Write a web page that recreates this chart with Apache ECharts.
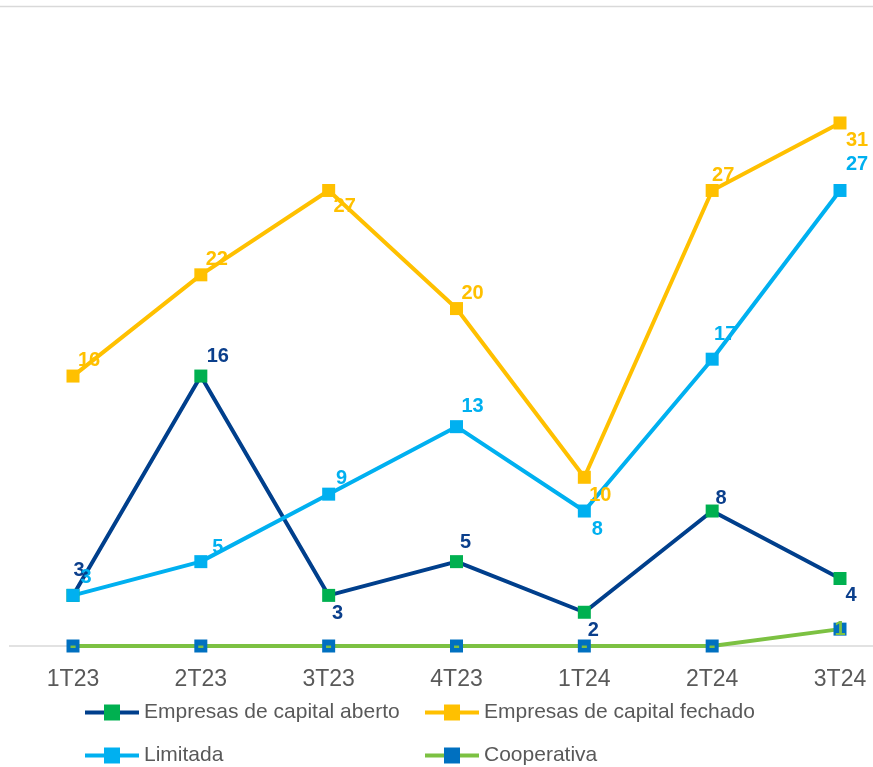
<!DOCTYPE html>
<html>
<head>
<meta charset="utf-8">
<script src="https://cdn.jsdelivr.net/npm/echarts@6/dist/echarts.min.js"></script>
<style>html,body{margin:0;padding:0;background:#fff;}#c{width:873px;height:767px;}</style>
</head>
<body>
<div id="c"></div>
<script>
var categories = ['1T23','2T23','3T23','4T23','1T24','2T24','3T24'];
var seriesNames = ['Empresas de capital aberto','Empresas de capital fechado','Limitada','Cooperativa'];
var capitalAberto = [3,16,3,5,2,8,4];
var capitalFechado = [16,22,27,20,10,27,31];
var limitada = [3,5,9,13,8,17,27];
var cooperativa = [0,0,0,0,0,0,1];

// label offsets (style only)
var offAberto = [[6,-25],[17,-20],[9,18],[9,-19],[9,18],[9,-13],[11,17]];
var offFechado = [[16,-16],[16,-15],[16,16],[16,-15],[16,18],[11,-15],[17,17]];
var offLimitada = [[13,-18],[17,-14],[13,-16],[16,-20],[13,18],[13,-25],[17,-26]];
var offCoop = [[0,0],[0,0],[0,0],[0,0],[0,0],[0,0],[0,0]];

var FONT = 'Liberation Sans';

function build(vals, offs) {
  return vals.map(function (v, i) {
    return { value: v, label: { offset: offs[i] } };
  });
}

function mkSeries(name, vals, offs, lineColor, markColor, labelColor, fmt) {
  return {
    name: name,
    type: 'line',
    data: build(vals, offs),
    symbol: 'rect',
    symbolSize: 13,
    showAllSymbol: true,
    lineStyle: { color: lineColor, width: 4 },
    itemStyle: { color: markColor },
    emphasis: { disabled: true },
    animation: false,
    label: {
      show: true,
      position: 'inside',
      color: labelColor,
      fontFamily: FONT,
      fontWeight: 'bold',
      fontSize: 20,
      formatter: fmt || '{c}'
    }
  };
}

var chart = echarts.init(document.getElementById('c'), null, { renderer: 'canvas' });

function legendAt(name, left, top) {
  return {
    data: [name],
    left: left,
    top: top,
    padding: 0,
    itemWidth: 54,
    itemHeight: 20,
    itemGap: 0,
    lineStyle: { width: 4 },
    textStyle: { fontFamily: FONT, fontSize: 21, color: '#595959' },
    selectedMode: false
  };
}

chart.setOption({
  backgroundColor: '#ffffff',
  animation: false,
  graphic: [{
    type: 'line',
    shape: { x1: 0, y1: 6.5, x2: 873, y2: 6.5 },
    style: { stroke: '#d9d9d9', lineWidth: 1.5 },
    silent: true
  }, {
    type: 'line',
    shape: { x1: 9, y1: 646, x2: 873, y2: 646 },
    style: { stroke: '#d9d9d9', lineWidth: 1.5 },
    silent: true,
    z: 0
  }],
  legend: [
    legendAt(seriesNames[0], 83, 702),
    legendAt(seriesNames[1], 423, 702),
    legendAt(seriesNames[2], 83, 745),
    legendAt(seriesNames[3], 423, 745)
  ],
  grid: { left: 73, right: 33, top: 55.5, bottom: 121, containLabel: false },
  xAxis: {
    type: 'category',
    data: categories,
    boundaryGap: false,
    axisLine: { show: false },
    axisTick: { show: false },
    axisLabel: { color: '#595959', fontFamily: FONT, fontSize: 23, margin: 22, interval: 0 },
    splitLine: { show: false }
  },
  yAxis: {
    type: 'value',
    min: 0,
    max: 35,
    show: false,
    splitLine: { show: false }
  },
  series: [
    mkSeries(seriesNames[0], capitalAberto, offAberto, '#003F8C', '#00B050', '#0B3F8C'),
    mkSeries(seriesNames[1], capitalFechado, offFechado, '#FFC000', '#FFC000', '#FFC000'),
    mkSeries(seriesNames[2], limitada, offLimitada, '#00B0F0', '#00B0F0', '#00B0F0'),
    mkSeries(seriesNames[3], cooperativa, offCoop, '#7CC142', '#0070C0', '#7CC142', function (p) { return p.value === 0 ? '-' : String(p.value); })
  ]
});
</script>
</body>
</html>
